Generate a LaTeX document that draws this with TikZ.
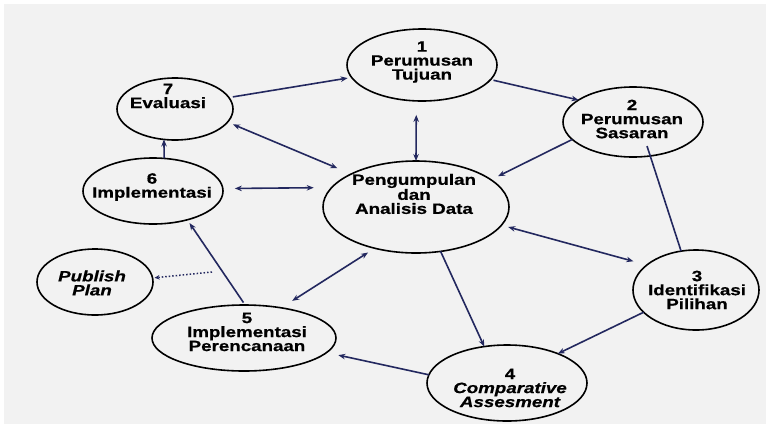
\documentclass[tikz,border=0pt]{standalone}
\usepackage{fontspec}
\newfontfamily\lbl{Liberation Sans Bold}[FakeStretch=1.25,FakeBold=0.6,ItalicFont={Liberation Sans Bold Italic}]
\usetikzlibrary{arrows.meta,shapes.geometric,calc}
\definecolor{bggray}{RGB}{242,242,242}
\definecolor{navy}{RGB}{35,40,95}
\tikzset{
  oval/.style={draw=black,line width=1.6pt,ellipse,inner sep=0pt,outer sep=0pt},
  lbltext/.style={align=center,inner sep=0pt,font={\lbl\fontsize{15}{14}\selectfont}},
  conn/.style={draw=navy,line width=1.6pt},
  one/.style={conn,-{Stealth[length=7pt,width=5.5pt]}},
  two/.style={conn,{Stealth[length=7pt,width=5.5pt]}-{Stealth[length=7pt,width=5.5pt]}},
  plainline/.style={conn},
  dotline/.style={draw=navy,line width=1.5pt,dotted,-{Stealth[length=5pt,width=4.5pt]}}
}
\begin{document}
\begin{tikzpicture}[x=1pt,y=-1pt]
\useasboundingbox (0,0) rectangle (770,424);
\fill[white] (0,0) rectangle (770,424);
\fill[bggray] (4,4) rectangle (766,424);

% ellipses
\node[oval,minimum width=150pt,minimum height=72pt] (n1) at (422,65) {};
\node[oval,minimum width=140pt,minimum height=70pt] (n2) at (633,122) {};
\node[oval,minimum width=116pt,minimum height=62pt] (n7) at (175,109) {};
\node[oval,minimum width=140pt,minimum height=66pt] (n6) at (153,191) {};
\node[oval,minimum width=186pt,minimum height=92pt] (c) at (416,207) {};
\node[oval,minimum width=116pt,minimum height=66pt] (pp) at (95,282) {};
\node[oval,minimum width=184pt,minimum height=66pt] (n5) at (244,338) {};
\node[oval,minimum width=126pt,minimum height=80pt] (n3) at (696,290) {};
\node[oval,minimum width=160pt,minimum height=76pt] (n4) at (507,383) {};

% texts
\node[lbltext] (t1) at (422,62) {1\\Perumusan\\Tujuan};
\node[lbltext] (t2) at (632,119) {2\\Perumusan\\Sasaran};
\node[lbltext] (t7) at (168,96) {7\\Evaluasi};
\node[lbltext] (t6) at (152,187) {6\\Implementasi};
\node[lbltext] (tc) at (414,194) {Pengumpulan\\dan\\Analisis Data};
\node[lbltext] (tpp) at (92,283) {\itshape Publish\\\itshape Plan};
\node[lbltext] (t5) at (247,332) {5\\Implementasi\\Perencanaan};
\node[lbltext] (t3) at (697,290) {3\\Identifikasi\\Pilihan};
\node[lbltext] (t4) at (510,388) {4\\\itshape Comparative\\\itshape Assesment};

% connectors
\draw[one,shorten <=4pt,shorten >=4pt] (n7.12) -- (n1.190.6);
\draw[one,shorten <=3pt] (n1.-12.8) -- (n2.158.6);
\draw[two,shorten <=14pt] (n1.-99.5) -- (c.90);
\draw[two,shorten <=6pt,shorten >=15pt] (n7.-14) -- (c.153.4);
\draw[two,shorten <=12pt,shorten >=18pt] (n6.2.5) -- (c.167.4);
\draw[one] (n6.71.4) -- (n7.250.1);
\draw[one,shorten >=8pt] (n2.196.4) -- (c.20.7);
\draw[plainline] ($(n2)+(14,24)$) -- (n3.111);
\draw[two,shorten <=7pt,shorten >=14pt] (c.-12.3) -- (n3.153.4);
\draw[one] (c.-61.6) -- (n4.122.3);
\draw[one] (n3.203) -- (n4.30.3);
\draw[one,shorten >=12pt] (n4.174.2) -- (n5.-10.6);
\draw[one,shorten <=3pt,shorten >=4pt] (n5.88) -- (n6.-40);
\draw[two,shorten <=13pt,shorten >=8pt] (n5.39) -- (c.225);
\coordinate (dp) at (212,272);
\draw[dotline,shorten >=2pt] (dp) -- (pp.4);
\end{tikzpicture}
\end{document}
